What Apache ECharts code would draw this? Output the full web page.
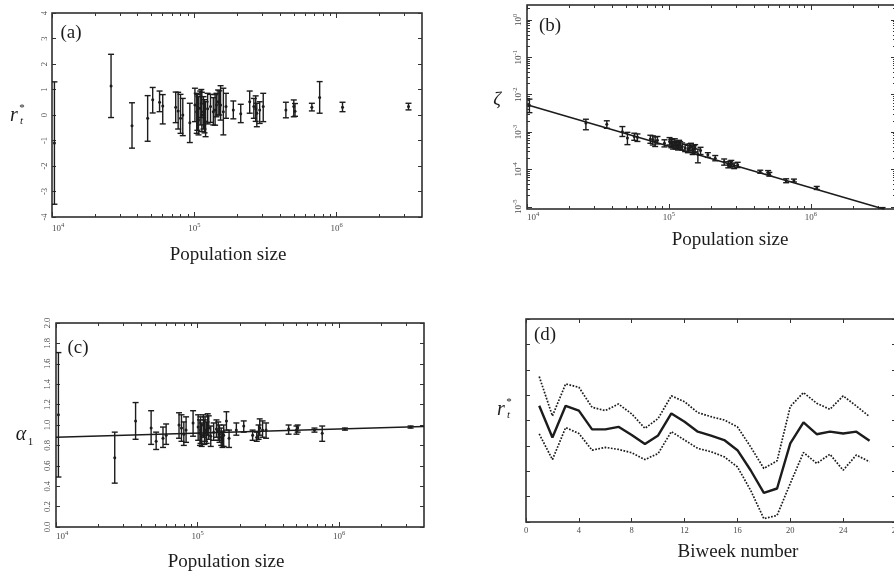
<!DOCTYPE html>
<html>
<head>
<meta charset="utf-8">
<script src="https://cdn.jsdelivr.net/npm/echarts@6/dist/echarts.min.js"></script>
<style>
  html, body { margin: 0; padding: 0; background: #fff; }
  #chart { width: 894px; height: 573px; }
</style>
</head>
<body>
<div id="chart"></div>
<script>
// ---------------------------------------------------------------
// City population sizes (shared by panels a, b, c)
// ---------------------------------------------------------------
const populations = [
  1.04e4, 2.6e4, 3.65e4, 4.7e4, 5.1e4, 5.7e4, 6.0e4, 7.4e4, 7.7e4, 8.0e4,
  8.3e4, 9.3e4, 1.01e5, 1.04e5, 1.05e5, 1.07e5, 1.1e5, 1.12e5, 1.13e5, 1.16e5,
  1.18e5, 1.2e5, 1.24e5, 1.3e5, 1.36e5, 1.4e5, 1.43e5, 1.47e5, 1.5e5, 1.53e5,
  1.6e5, 1.67e5, 1.88e5, 2.12e5, 2.45e5, 2.62e5, 2.7e5, 2.75e5, 2.88e5, 3.05e5,
  4.4e5, 5.0e5, 5.1e5, 6.7e5, 7.6e5, 1.1e6, 3.2e6
];

// (a) r_t* estimates with lower / upper limits
const rStar = [
  -1.1, 1.14, -0.42, -0.13, 0.6, 0.5, 0.35, 0.3, 0.16, -0.13,
  0.0, -0.3, 0.39, 0.13, 0.1, -0.2, 0.26, 0.45, 0.0, 0.13,
  -0.1, -0.26, 0.25, 0.33, 0.13, 0.2, 0.39, 0.52, 0.45, 0.39,
  0.13, 0.33, 0.2, 0.05, 0.52, 0.33, 0.25, 0.07, 0.2, 0.33,
  0.2, 0.33, 0.15, 0.3, 0.69, 0.3, 0.33
];
const rStarLow = [
  -3.5, -0.1, -1.3, -1.03, 0.08, 0.13, -0.35, -0.3, -0.55, -0.72,
  -0.81, -1.08, -0.26, -0.72, -0.6, -0.78, -0.39, -0.1, -0.65, -0.55,
  -0.7, -0.85, -0.35, -0.29, -0.39, -0.4, -0.07, 0.0, 0.0, -0.2,
  -0.78, -0.13, -0.15, -0.3, 0.07, -0.13, -0.25, -0.46, -0.33, -0.26,
  -0.11, -0.07, -0.05, 0.16, 0.07, 0.13, 0.2
];
const rStarHigh = [
  1.3, 2.38, 0.48, 0.76, 1.08, 0.94, 0.8, 0.9, 0.89, 0.81,
  0.65, 0.46, 1.05, 0.85, 0.8, 0.72, 0.94, 1.0, 0.89, 0.72,
  0.6, 0.52, 0.85, 0.81, 0.68, 0.8, 0.85, 0.98, 0.95, 1.15,
  1.05, 0.85, 0.55, 0.42, 0.94, 0.65, 0.75, 0.46, 0.52, 0.85,
  0.5, 0.59, 0.45, 0.46, 1.31, 0.5, 0.46
];

// (b) zeta estimates with lower / upper limits
const zeta = [
  5.2e-3, 1.74e-3, 1.62e-3, 1.02e-3, 6.9e-4, 7.6e-4, 7.2e-4, 6.5e-4, 6.3e-4, 5.6e-4,
  6.0e-4, 5.0e-4, 5.6e-4, 5.0e-4, 5.3e-4, 4.5e-4, 5.2e-4, 4.4e-4, 4.7e-4, 4.2e-4,
  4.8e-4, 4.5e-4, 4.1e-4, 3.8e-4, 3.5e-4, 3.9e-4, 4.0e-4, 3.3e-4, 3.5e-4, 3.7e-4,
  2.5e-4, 3.2e-4, 2.45e-4, 2.0e-4, 1.6e-4, 1.32e-4, 1.38e-4, 1.45e-4, 1.26e-4, 1.32e-4,
  8.7e-5, 8.3e-5, 7.4e-5, 5.0e-5, 5.0e-5, 3.16e-5, 8.7e-6
];
const zetaLow = [
  3.3e-3, 1.15e-3, 1.26e-3, 7.6e-4, 4.6e-4, 6.0e-4, 5.6e-4, 5.0e-4, 4.5e-4, 4.1e-4,
  4.8e-4, 4.0e-4, 4.5e-4, 3.8e-4, 4.2e-4, 3.5e-4, 4.2e-4, 3.5e-4, 3.7e-4, 3.3e-4,
  3.8e-4, 3.5e-4, 3.3e-4, 3.0e-4, 2.8e-4, 3.1e-4, 3.2e-4, 2.5e-4, 2.8e-4, 2.95e-4,
  1.5e-4, 2.5e-4, 2.1e-4, 1.7e-4, 1.3e-4, 1.1e-4, 1.15e-4, 1.2e-4, 1.05e-4, 1.12e-4,
  7.9e-5, 7.4e-5, 6.6e-5, 4.4e-5, 4.6e-5, 2.9e-5, 7.9e-6
];
const zetaHigh = [
  7.6e-3, 2.2e-3, 2.0e-3, 1.4e-3, 9.8e-4, 9.3e-4, 8.9e-4, 8.2e-4, 7.9e-4, 7.4e-4,
  7.6e-4, 6.2e-4, 7.1e-4, 6.3e-4, 6.6e-4, 5.6e-4, 6.6e-4, 5.4e-4, 5.8e-4, 5.2e-4,
  6.0e-4, 5.5e-4, 5.1e-4, 4.7e-4, 4.4e-4, 4.8e-4, 5.0e-4, 4.2e-4, 4.3e-4, 4.6e-4,
  3.5e-4, 3.9e-4, 2.8e-4, 2.35e-4, 1.9e-4, 1.6e-4, 1.65e-4, 1.74e-4, 1.48e-4, 1.55e-4,
  9.5e-5, 9.3e-5, 8.3e-5, 5.6e-5, 5.5e-5, 3.5e-5, 9.5e-6
];
const zetaFit = [[1e4, 5.4e-3], [3.3e6, 8.6e-6]];

// (c) alpha_1 estimates with lower / upper limits
const alpha = [
  1.1, 0.68, 1.04, 0.97, 0.84, 0.87, 0.9, 1.0, 0.97, 0.91,
  0.95, 1.02, 0.98, 0.92, 0.95, 0.9, 1.0, 0.93, 0.95, 0.92,
  1.01, 0.97, 0.89, 0.93, 0.96, 0.94, 0.91, 0.88, 0.86, 0.9,
  1.04, 0.87, 0.95, 0.99, 0.9, 0.88, 0.93, 0.97, 0.95, 0.95,
  0.96, 0.95, 0.97, 0.95, 0.92, 0.96, 0.98
];
const alphaLow = [
  0.49, 0.43, 0.86, 0.81, 0.76, 0.78, 0.81, 0.87, 0.84, 0.8,
  0.83, 0.89, 0.85, 0.8, 0.82, 0.79, 0.88, 0.81, 0.84, 0.82,
  0.9, 0.86, 0.79, 0.85, 0.88, 0.85, 0.83, 0.8, 0.78, 0.79,
  0.95, 0.78, 0.9, 0.93, 0.85, 0.84, 0.86, 0.9, 0.88, 0.87,
  0.91, 0.91, 0.93, 0.93, 0.84, 0.95, 0.97
];
const alphaHigh = [
  1.71, 0.93, 1.22, 1.14, 0.93, 0.98, 1.01, 1.12, 1.1, 1.03,
  1.08, 1.14, 1.1, 1.05, 1.08, 1.02, 1.1, 1.05, 1.08, 1.03,
  1.11, 1.09, 0.99, 1.02, 1.05, 1.03, 1.0, 0.97, 0.94, 1.0,
  1.13, 0.95, 1.02, 1.04, 0.95, 0.93, 1.0, 1.06, 1.04, 1.02,
  1.0, 0.99, 1.0, 0.97, 0.99, 0.97, 0.99
];
const alphaFit = [[1e4, 0.88], [3.98e6, 0.985]];

// (d) seasonal r_t* by biweek, with upper / lower bands
const biweeks = [1, 2, 3, 4, 5, 6, 7, 8, 9, 10, 11, 12, 13, 14, 15, 16, 17, 18, 19, 20, 21, 22, 23, 24, 25, 26];
const seasonMean = [4.58, 3.33, 4.58, 4.39, 3.65, 3.65, 3.75, 3.43, 3.07, 3.41, 4.28, 3.95, 3.56, 3.40, 3.23, 2.83, 2.04, 1.15, 1.32, 3.10, 3.93, 3.46, 3.56, 3.49, 3.56, 3.20];
const seasonUpper = [5.73, 4.18, 5.44, 5.31, 4.52, 4.39, 4.65, 4.26, 3.69, 4.08, 4.97, 4.74, 4.31, 4.15, 4.02, 3.75, 2.96, 2.11, 2.41, 4.55, 5.10, 4.68, 4.44, 4.97, 4.57, 4.15];
const seasonLower = [3.47, 2.46, 3.72, 3.49, 2.83, 2.94, 2.86, 2.73, 2.46, 2.70, 3.56, 3.23, 2.90, 2.77, 2.57, 2.17, 1.25, 0.13, 0.26, 1.52, 2.74, 2.31, 2.67, 2.04, 2.64, 2.37];

// Tick values
const popMajorTicks = [1e4, 1e5, 1e6];
const popMinorTicks = [2e4, 3e4, 4e4, 5e4, 6e4, 7e4, 8e4, 9e4,
                       2e5, 3e5, 4e5, 5e5, 6e5, 7e5, 8e5, 9e5,
                       2e6, 3e6];
const zetaMajorTicks = [1e-5, 1e-4, 1e-3, 1e-2, 1e-1, 1];
const zetaMinorTicks = [2e-5, 3e-5, 4e-5, 5e-5, 6e-5, 7e-5, 8e-5, 9e-5,
                        2e-4, 3e-4, 4e-4, 5e-4, 6e-4, 7e-4, 8e-4, 9e-4,
                        2e-3, 3e-3, 4e-3, 5e-3, 6e-3, 7e-3, 8e-3, 9e-3,
                        2e-2, 3e-2, 4e-2, 5e-2, 6e-2, 7e-2, 8e-2, 9e-2,
                        2e-1, 3e-1, 4e-1, 5e-1, 6e-1, 7e-1, 8e-1, 9e-1, 2];
const biweekTicks = [0, 4, 8, 12, 16, 20, 24, 28];

// ---------------------------------------------------------------
// Styling helpers
// ---------------------------------------------------------------
const SERIF = '"Liberation Serif", "DejaVu Serif", serif';
const INK = '#1c1c1c';
const TICK_INK = '#333';
const LABEL_INK = '#4a4a4a';
const POP_MAX = 3981072;  // 10^6.6

function isPow10(v) {
  const e = Math.log10(v);
  return Math.abs(e - Math.round(e)) < 1e-6;
}
function powLabel(v) {
  if (!isPow10(v)) return '';
  return '{b|10}{s|' + Math.round(Math.log10(v)) + '}';
}
const powRich = {
  b: { fontSize: 9, lineHeight: 13, fontFamily: SERIF, color: LABEL_INK },
  s: { fontSize: 6.5, lineHeight: 7, verticalAlign: 'top', fontFamily: SERIF, color: LABEL_INK }
};

function tickAxis(base, opts) {
  return Object.assign({
    axisLine: { show: false, onZero: false },
    splitLine: { show: false },
    axisLabel: { show: false },
    axisTick: { show: true, inside: true, length: 4, lineStyle: { color: TICK_INK, width: 1 } }
  }, base, opts);
}

function popAxes(g, labelMargin) {
  const base = { gridIndex: g, type: 'log', logBase: 10, min: 1e4, max: POP_MAX };
  return [
    tickAxis(base, {
      position: 'bottom',
      axisTick: { show: true, inside: true, length: 5, customValues: popMajorTicks, lineStyle: { color: TICK_INK } },
      axisLabel: { show: true, customValues: popMajorTicks, formatter: powLabel, rich: powRich,
                   margin: labelMargin, alignMinLabel: 'left' }
    }),
    tickAxis(base, { position: 'bottom',
      axisTick: { show: true, inside: true, length: 3, customValues: popMinorTicks, lineStyle: { color: TICK_INK } } }),
    tickAxis(base, { position: 'top',
      axisTick: { show: true, inside: true, length: 5, customValues: popMajorTicks, lineStyle: { color: TICK_INK } } }),
    tickAxis(base, { position: 'top',
      axisTick: { show: true, inside: true, length: 3, customValues: popMinorTicks, lineStyle: { color: TICK_INK } } })
  ];
}

const smallLabel = { fontSize: 8.5, fontFamily: SERIF, color: LABEL_INK };

const xAxes = [].concat(
  popAxes(0, 5),   // 0..3  panel a
  popAxes(1, 2),   // 4..7  panel b
  popAxes(2, 3),   // 8..11 panel c
  [
    tickAxis({ gridIndex: 3, type: 'value', min: 0, max: 28, interval: 4 }, {
      position: 'bottom',
      axisLabel: Object.assign({ show: true, margin: 4, customValues: biweekTicks }, smallLabel)
    }),
    tickAxis({ gridIndex: 3, type: 'value', min: 0, max: 28, interval: 4 }, { position: 'top' })
  ]                // 12, 13 panel d
);

const yAxes = [
  // panel a
  tickAxis({ gridIndex: 0, type: 'value', min: -4, max: 4, interval: 1 }, {
    position: 'left',
    axisLabel: Object.assign({ show: true, rotate: 90, margin: 3 }, smallLabel)
  }),
  tickAxis({ gridIndex: 0, type: 'value', min: -4, max: 4, interval: 1 }, { position: 'right' }),
  // panel b
  tickAxis({ gridIndex: 1, type: 'log', logBase: 10, min: 8.71e-6, max: 2.512 }, {
    position: 'left',
    axisTick: { show: true, inside: true, length: 5, customValues: zetaMajorTicks, lineStyle: { color: TICK_INK } },
    axisLabel: { show: true, rotate: 90, margin: 2, customValues: zetaMajorTicks, formatter: powLabel, rich: powRich }
  }),
  tickAxis({ gridIndex: 1, type: 'log', logBase: 10, min: 8.71e-6, max: 2.512 }, {
    position: 'left',
    axisTick: { show: true, inside: true, length: 3, customValues: zetaMinorTicks, lineStyle: { color: TICK_INK } }
  }),
  tickAxis({ gridIndex: 1, type: 'log', logBase: 10, min: 8.71e-6, max: 2.512 }, {
    position: 'right',
    axisTick: { show: true, inside: true, length: 5, customValues: zetaMajorTicks, lineStyle: { color: TICK_INK } }
  }),
  tickAxis({ gridIndex: 1, type: 'log', logBase: 10, min: 8.71e-6, max: 2.512 }, {
    position: 'right',
    axisTick: { show: true, inside: true, length: 3, customValues: zetaMinorTicks, lineStyle: { color: TICK_INK } }
  }),
  // panel c
  tickAxis({ gridIndex: 2, type: 'value', min: 0, max: 2, interval: 0.2 }, {
    position: 'left',
    axisLabel: Object.assign({ show: true, rotate: 90, margin: 4, formatter: v => v.toFixed(1) }, smallLabel)
  }),
  tickAxis({ gridIndex: 2, type: 'value', min: 0, max: 2, interval: 0.2 }, { position: 'right' }),
  // panel d
  tickAxis({ gridIndex: 3, type: 'value', min: 0, max: 8, interval: 1 }, { position: 'left' }),
  tickAxis({ gridIndex: 3, type: 'value', min: 0, max: 8, interval: 1 }, { position: 'right' })
];

// Error bar with end caps and a dot at the estimate
function errorBarItem(params, api) {
  const x = api.value(0);
  const lo = api.coord([x, api.value(1)]);
  const hi = api.coord([x, api.value(2)]);
  const mid = api.coord([x, api.value(3)]);
  const cap = 3;
  const stroke = { stroke: INK, lineWidth: 1.4, fill: null };
  return {
    type: 'group',
    children: [
      { type: 'line', shape: { x1: hi[0], y1: hi[1], x2: lo[0], y2: lo[1] }, style: stroke },
      { type: 'line', shape: { x1: hi[0] - cap, y1: hi[1], x2: hi[0] + cap, y2: hi[1] }, style: stroke },
      { type: 'line', shape: { x1: lo[0] - cap, y1: lo[1], x2: lo[0] + cap, y2: lo[1] }, style: stroke },
      { type: 'circle', shape: { cx: mid[0], cy: mid[1], r: 1.5 }, style: { fill: INK } }
    ]
  };
}

function errorData(center, low, high) {
  return populations.map((p, i) => [p, low[i], high[i], center[i]]);
}

function errorSeries(xi, yi, center, low, high) {
  return {
    type: 'custom', xAxisIndex: xi, yAxisIndex: yi, clip: true,
    renderItem: errorBarItem,
    encode: { x: 0, y: [1, 2, 3] },
    data: errorData(center, low, high),
    z: 3
  };
}

function pairs(xs, ys) { return xs.map((x, i) => [x, ys[i]]); }

const series = [
  errorSeries(0, 0, rStar, rStarLow, rStarHigh),
  errorSeries(4, 2, zeta, zetaLow, zetaHigh),
  { type: 'line', xAxisIndex: 4, yAxisIndex: 2, data: zetaFit, showSymbol: false, clip: true,
    lineStyle: { color: INK, width: 1.6 }, z: 2 },
  errorSeries(8, 6, alpha, alphaLow, alphaHigh),
  { type: 'line', xAxisIndex: 8, yAxisIndex: 6, data: alphaFit, showSymbol: false, clip: true,
    lineStyle: { color: INK, width: 1.6 }, z: 2 },
  { type: 'line', xAxisIndex: 12, yAxisIndex: 8, data: pairs(biweeks, seasonUpper), showSymbol: false,
    lineStyle: { color: INK, width: 1.7, type: [1.7, 1.5] } },
  { type: 'line', xAxisIndex: 12, yAxisIndex: 8, data: pairs(biweeks, seasonMean), showSymbol: false,
    lineStyle: { color: INK, width: 2.4 } },
  { type: 'line', xAxisIndex: 12, yAxisIndex: 8, data: pairs(biweeks, seasonLower), showSymbol: false,
    lineStyle: { color: INK, width: 1.7, type: [1.7, 1.5] } }
];

const gridStyle = {
  show: true, borderColor: '#222', borderWidth: 1.5, backgroundColor: 'transparent',
  containLabel: false, outerBoundsMode: 'none'
};
const grids = [
  Object.assign({ left: 52, top: 13, width: 370, height: 204 }, gridStyle),
  Object.assign({ left: 527, top: 5, width: 369, height: 204 }, gridStyle),
  Object.assign({ left: 56, top: 323, width: 368, height: 204 }, gridStyle),
  Object.assign({ left: 526, top: 319, width: 370, height: 203 }, gridStyle)
];

function txt(x, y, text, size, extra) {
  return {
    type: 'text', x: x, y: y, silent: true,
    style: Object.assign({
      text: text, font: size + 'px ' + SERIF, fill: INK, align: 'center', verticalAlign: 'middle'
    }, extra || {})
  };
}
function itxt(x, y, text, size) {
  return txt(x, y, text, size, { font: 'italic ' + size + 'px ' + SERIF });
}

const graphic = [
  // panel letters
  txt(71, 33, '(a)', 19),
  txt(550, 26, '(b)', 19),
  txt(78, 348, '(c)', 19),
  txt(545, 335, '(d)', 19),
  // axis titles
  txt(228, 255, 'Population size', 19),
  txt(730, 240, 'Population size', 19),
  txt(226, 562, 'Population size', 19),
  txt(738, 552, 'Biweek number', 19),
  // r_t* (panel a)
  itxt(14, 116, 'r', 20),
  txt(22, 108, '*', 11),
  itxt(21.5, 121, 't', 11),
  // zeta (panel b)
  itxt(497, 100, 'ζ', 19),
  // alpha_1 (panel c)
  itxt(21, 435, 'α', 20),
  txt(30.5, 442, '1', 11),
  // r_t* (panel d)
  itxt(501, 410, 'r', 20),
  txt(509, 402, '*', 11),
  itxt(508.5, 415, 't', 11)
];

const chart = echarts.init(document.getElementById('chart'), null, { renderer: 'canvas' });
chart.setOption({
  animation: false,
  backgroundColor: '#fff',
  grid: grids,
  xAxis: xAxes,
  yAxis: yAxes,
  series: series,
  graphic: graphic
});
</script>
</body>
</html>
